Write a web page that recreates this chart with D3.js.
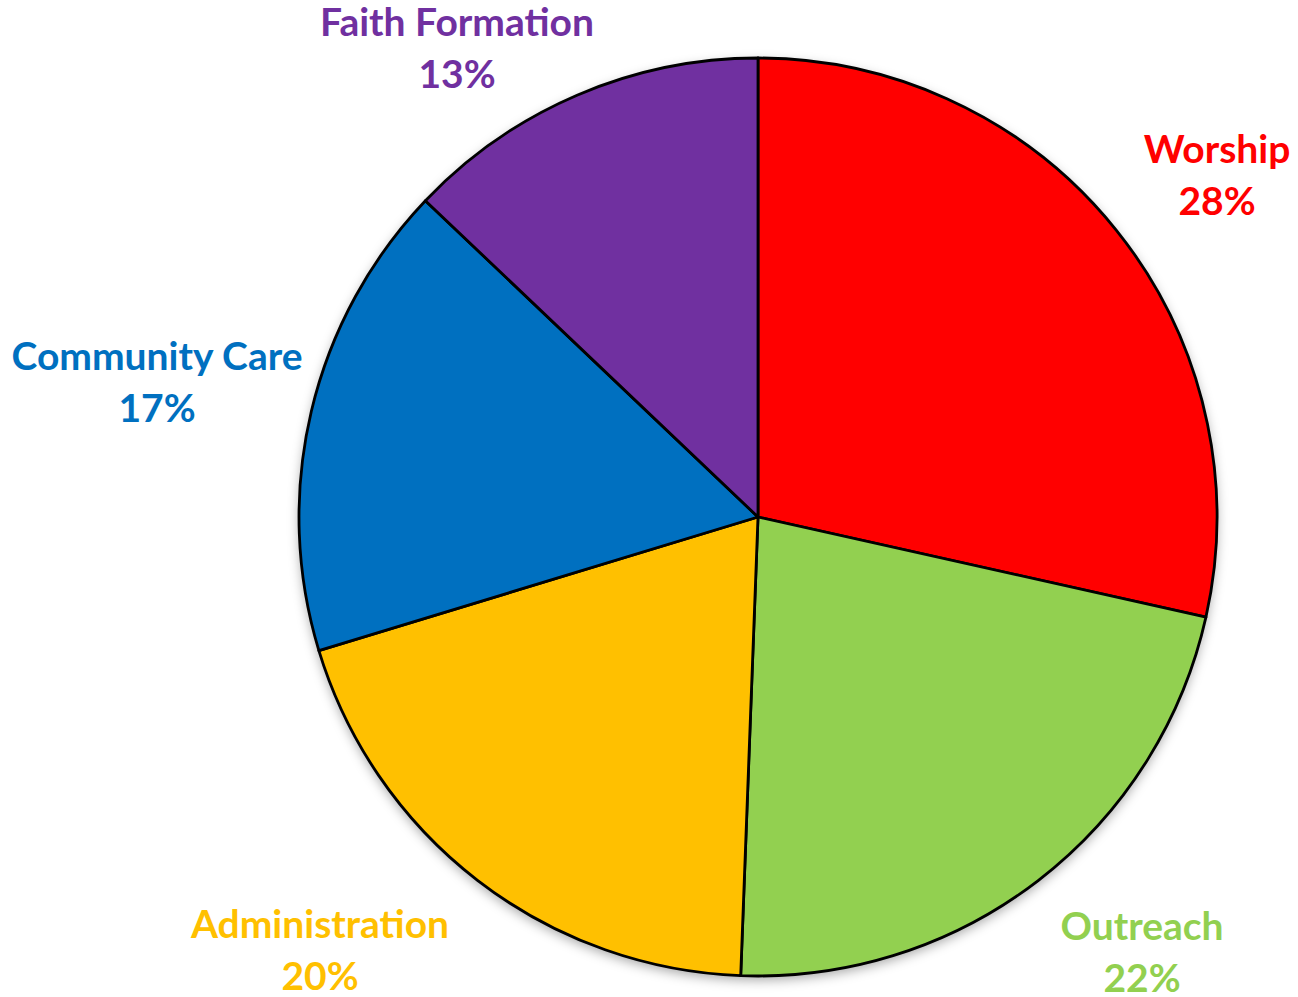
<!DOCTYPE html>
<html>
<head>
<meta charset="utf-8">
<script src="https://cdn.jsdelivr.net/npm/d3@7"></script>
<style>
  body { margin: 0; background: #fff; }
  .label { font-family: Lato, "Open Sans", sans-serif; font-weight: 700; font-size: 39px; }
</style>
</head>
<body>
<div id="chart"></div>
<script>
// slice data (share of total)
var categories = ["Worship", "Outreach", "Administration", "Community Care", "Faith Formation"];
var values = [28.5, 22.1, 19.7, 16.8, 12.9];
var pctLabels = ["28%", "22%", "20%", "17%", "13%"];
var colors = ["#ff0000", "#92d050", "#ffc000", "#0070c0", "#7030a0"];

var width = 1298,
    height = 997,
    cx = 758,
    cy = 517,
    radius = 459;

// where Excel put the labels (centre x, first baseline)
var labelPos = {
  "Worship": [1217, 163],
  "Outreach": [1142, 940],
  "Administration": [320, 938],
  "Community Care": [157, 370],
  "Faith Formation": [457, 36]
};

var data = categories.map(function(c, i) {
  return {name: c, value: values[i], pct: pctLabels[i]};
});

var color = d3.scaleOrdinal()
    .domain(categories)
    .range(colors);

var pie = d3.pie()
    .sort(null)
    .value(function(d) { return d.value; });

var arc = d3.arc()
    .innerRadius(0)
    .outerRadius(radius);

var svg = d3.select("#chart").append("svg")
    .attr("width", width)
    .attr("height", height);

// soft shadow under the pie
var defs = svg.append("defs");
defs.append("filter")
    .attr("id", "shadow")
    .attr("x", "-10%").attr("y", "-10%")
    .attr("width", "120%").attr("height", "120%")
  .append("feDropShadow")
    .attr("dx", 0)
    .attr("dy", 4)
    .attr("stdDeviation", 6)
    .attr("flood-color", "#000")
    .attr("flood-opacity", 0.35);

var g = svg.append("g")
    .attr("transform", "translate(" + cx + "," + cy + ")");

g.append("circle")
    .attr("r", radius)
    .attr("fill", "#fff")
    .attr("filter", "url(#shadow)");

g.selectAll("path.slice")
    .data(pie(data))
    .enter()
    .append("path")
    .attr("class", "slice")
    .attr("d", arc)
    .attr("fill", function(d) { return color(d.data.name); })
    .attr("stroke", "#000")
    .attr("stroke-width", 2.8)
    .attr("stroke-linejoin", "round");

// labels
var labels = svg.selectAll("text.label")
    .data(data)
    .enter()
    .append("text")
    .attr("class", "label")
    .attr("text-anchor", "middle")
    .attr("fill", function(d) { return color(d.name); })
    .attr("x", function(d) { return labelPos[d.name][0]; })
    .attr("y", function(d) { return labelPos[d.name][1]; });

labels.append("tspan")
    .text(function(d) { return d.name; });

labels.append("tspan")
    .attr("x", function(d) { return labelPos[d.name][0]; })
    .attr("dy", 52)
    .text(function(d) { return d.pct; });
</script>
</body>
</html>
